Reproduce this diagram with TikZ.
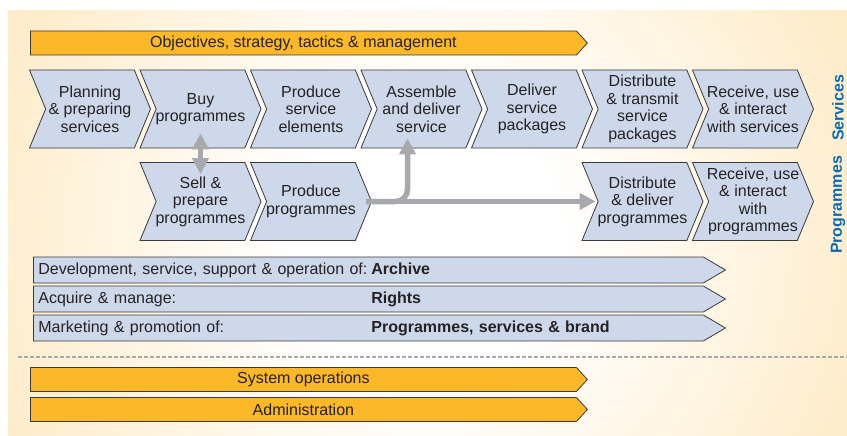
\documentclass[tikz,border=0pt]{standalone}
\usepackage{fontspec}
\setmainfont{Liberation Sans}
\usetikzlibrary{shapes.symbols,arrows.meta}

\definecolor{bgorange}{HTML}{FDD68C}
\definecolor{baramber}{HTML}{FBB829}
\definecolor{chevblue}{HTML}{CDD9EA}
\definecolor{edgegray}{HTML}{3A3A3A}
\definecolor{inkgray}{HTML}{252223}
\definecolor{flowgray}{HTML}{A7A9AC}
\definecolor{labelblue}{HTML}{0A6CB5}

\pgfdeclareradialshading{glow}{\pgfpointorigin}{color(0bp)=(white); color(4bp)=(white); color(25bp)=(bgorange); color(50bp)=(bgorange)}

\tikzset{
  base/.style={signal, inner sep=0pt, text=inkgray, line width=0.8pt, draw=edgegray,
    font=\fontsize{16}{17.5}\selectfont},
  chev/.style={base, signal from=west, signal to=east, signal pointer angle=135,
    inner xsep=-10pt, fill=chevblue, align=center, minimum width=121pt, minimum height=78pt},
  longbar/.style={base, anchor=west, signal to=east, signal pointer angle=61, fill=chevblue,
    minimum width=692pt, minimum height=26pt, text width=660pt, align=left},
  ambar/.style={base, anchor=west, signal to=east, signal pointer angle=95, fill=baramber,
    minimum width=557pt, minimum height=24pt},
  flow/.style={draw=flowgray, line width=5.5pt, -{Triangle[width=16pt,length=16pt]}},
  side/.style={text=labelblue, font=\fontsize{16}{17.5}\selectfont\bfseries, rotate=90}
}

\begin{document}
\begin{tikzpicture}[x=1pt, y=-1pt]
  \useasboundingbox (0,0) rectangle (847,436);

  % glowing backdrop
  \begin{scope}
    \clip (8,11) rectangle (847,436);
    \shade[shading=glow] (425,240) circle (840);
  \end{scope}

  % Management bar
  \node at (30,43) (M) [ambar] {Objectives, strategy, tactics \& management};

  % Services row
  \node at (90,109) (S1) [chev] {Planning\\\& preparing\\services};
  \node at (200.5,109) (S2) [chev] {Buy\\programmes};
  \node at (311,109) (S3) [chev] {Produce\\service\\elements};
  \node at (421.5,109) (S4) [chev] {Assemble\\and deliver\\service};
  \node at (532,109) (S5) [chev] {Deliver\\service\\packages};
  \node at (642.5,109) (S6) [chev] {Distribute\\\& transmit\\service\\packages};
  \node at (753,109) (S7) [chev] {Receive, use\\\& interact\\with services};

  % Programmes row
  \node at (200.5,201.5) (P2) [chev] {Sell \&\\prepare\\programmes};
  \node at (311,201.5) (P3) [chev] {Produce\\programmes};
  \node at (642.5,201.5) (P6) [chev] {Distribute\\\& deliver\\programmes};
  \node at (753,201.5) (P7) [chev] {Receive, use\\\& interact\\with\\programmes};

  % Row labels
  \node at (838,108) (svc) [side] {Services};
  \node at (838,205) (prg) [side] {Programmes};

  % Support bars
  \node at (33,270) (B1) [longbar] {\makebox[333pt][l]{Development, service, support \& operation of:}\textbf{Archive}};
  \node at (33,299) (B2) [longbar] {\makebox[333pt][l]{Acquire \& manage:}\textbf{Rights}};
  \node at (33,328) (B3) [longbar] {\makebox[333pt][l]{Marketing \& promotion of:}\textbf{Programmes, services \& brand}};

  % Separator
  \draw[flowgray, line width=1.5pt, dash pattern=on 4pt off 2pt] (18,357) -- (847,357);

  % Operations bars
  \node at (30,379.5) (O1) [ambar] {System operations};
  \node at (30,409.5) (O2) [ambar] {Administration};

  % Arrows
  \draw[flow, {Triangle[width=16pt,length=16pt]}-{Triangle[width=16pt,length=16pt]}] ([yshift=15pt]S2.south) -- ([yshift=-12pt]P2.north);
  \draw[flow] ([xshift=-6pt]P3.east) -- ([xshift=-2pt]P6.west);
  \draw[flow, rounded corners=12pt] ([xshift=-6pt]P3.east) -| ([xshift=-14pt,yshift=10pt]S4.south);
\end{tikzpicture}
\end{document}
